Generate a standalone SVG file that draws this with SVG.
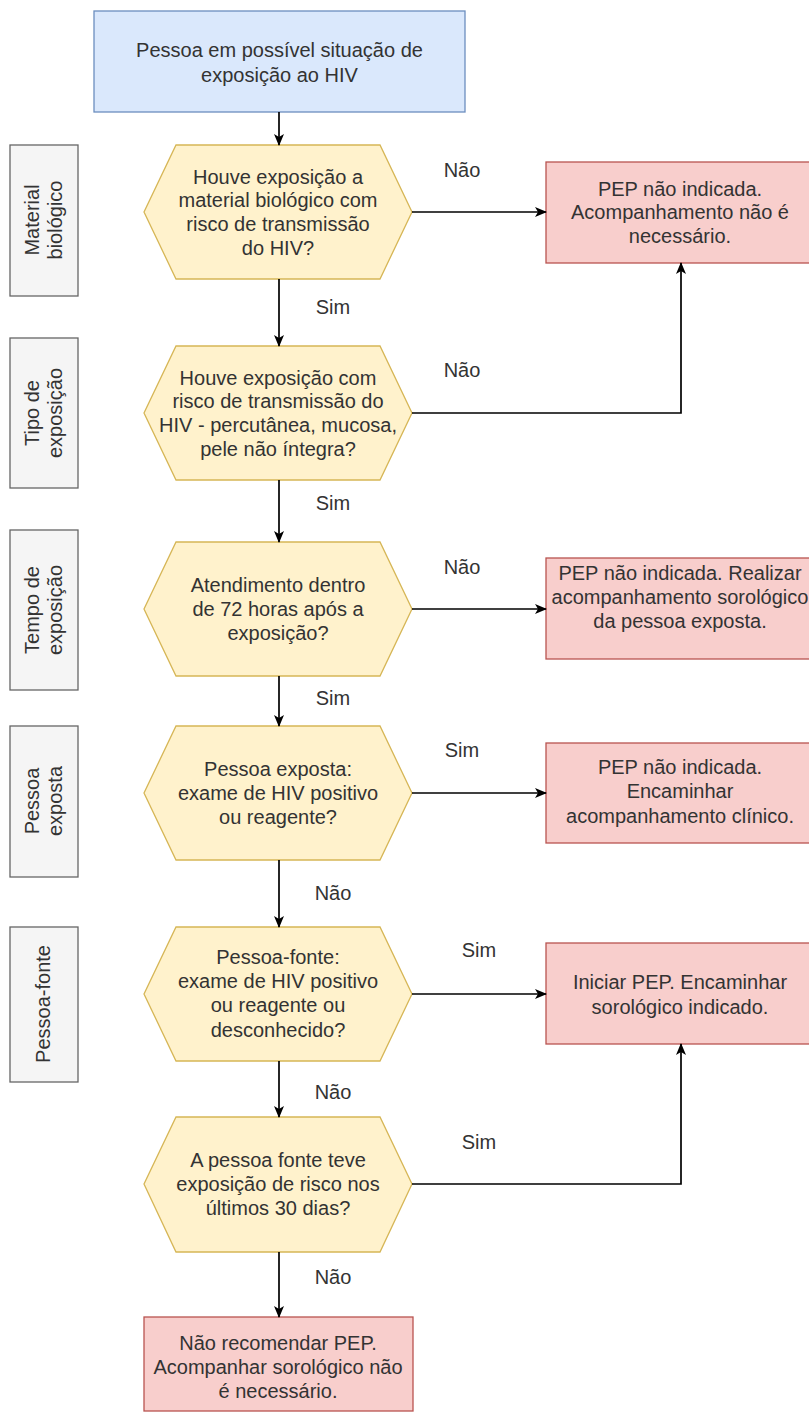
<svg xmlns="http://www.w3.org/2000/svg" width="809" height="1414" viewBox="0 0 809 1414">
<style>
text{font-family:"Liberation Sans",Arial,sans-serif;font-size:20px;fill:#333333;text-anchor:middle}
.start{fill:#dae8fc;stroke:#6c8ebf;stroke-width:1.3}
.dec{fill:#fff2cc;stroke:#d6b656;stroke-width:1.3}
.end{fill:#f8cecc;stroke:#b85450;stroke-width:1.3}
.side{fill:#f5f5f5;stroke:#666666;stroke-width:1.3}
.edge{fill:none;stroke:#000000;stroke-width:1.7}
</style>
<defs>
<marker id="arr" viewBox="0 0 12 10" refX="11" refY="5" markerWidth="12" markerHeight="10" markerUnits="userSpaceOnUse" orient="auto">
<path d="M0,0 L12,5 L0,10 L3,5 Z" fill="#000"/>
</marker>
</defs>
<rect width="809" height="1414" fill="#ffffff"/>

<g id="side-material">
<rect class="side" x="10" y="145" width="68" height="151"/>
<text transform="translate(39,220) rotate(-90)">Material</text>
<text transform="translate(62,220) rotate(-90)">biológico</text>
</g>
<g id="side-tipo">
<rect class="side" x="10" y="338" width="68" height="150"/>
<text transform="translate(39,413) rotate(-90)">Tipo de</text>
<text transform="translate(62,413) rotate(-90)">exposição</text>
</g>
<g id="side-tempo">
<rect class="side" x="10" y="530" width="68" height="160"/>
<text transform="translate(39,610) rotate(-90)">Tempo de</text>
<text transform="translate(62,610) rotate(-90)">exposição</text>
</g>
<g id="side-exposta">
<rect class="side" x="10" y="726" width="68" height="151"/>
<text transform="translate(39,801) rotate(-90)">Pessoa</text>
<text transform="translate(62,801) rotate(-90)">exposta</text>
</g>
<g id="side-fonte">
<rect class="side" x="10" y="927" width="68" height="155"/>
<text transform="translate(50,1004) rotate(-90)">Pessoa-fonte</text>
</g>

<g id="start">
<rect class="start" x="94" y="11" width="371" height="101"/>
<text x="279.5" y="57">Pessoa em possível situação de</text>
<text x="279.5" y="82">exposição ao HIV</text>
</g>

<g id="q1">
<polygon class="dec" points="176,145 380,145 412,212 380,279 176,279 144,212"/>
<text x="278" y="184">Houve exposição a</text>
<text x="278" y="207">material biológico com</text>
<text x="278" y="231">risco de transmissão</text>
<text x="278" y="255">do HIV?</text>
</g>
<g id="q2">
<polygon class="dec" points="176,346 380,346 412,413 380,480 176,480 144,413"/>
<text x="278" y="385">Houve exposição com</text>
<text x="278" y="408">risco de transmissão do</text>
<text x="278" y="432">HIV - percutânea, mucosa,</text>
<text x="278" y="456">pele não íntegra?</text>
</g>
<g id="q3">
<polygon class="dec" points="176,542 380,542 412,609 380,676 176,676 144,609"/>
<text x="278" y="592">Atendimento dentro</text>
<text x="278" y="616">de 72 horas após a</text>
<text x="278" y="640">exposição?</text>
</g>
<g id="q4">
<polygon class="dec" points="176,726 380,726 412,793 380,860 176,860 144,793"/>
<text x="278" y="776">Pessoa exposta:</text>
<text x="278" y="800">exame de HIV positivo</text>
<text x="278" y="824">ou reagente?</text>
</g>
<g id="q5">
<polygon class="dec" points="176,927 380,927 412,994 380,1061 176,1061 144,994"/>
<text x="278" y="964">Pessoa-fonte:</text>
<text x="278" y="988">exame de HIV positivo</text>
<text x="278" y="1012">ou reagente ou</text>
<text x="278" y="1037">desconhecido?</text>
</g>
<g id="q6">
<polygon class="dec" points="176,1117 380,1117 412,1184 380,1252 176,1252 144,1184"/>
<text x="278" y="1167">A pessoa fonte teve</text>
<text x="278" y="1191">exposição de risco nos</text>
<text x="278" y="1215">últimos 30 dias?</text>
</g>

<g id="r1">
<rect class="end" x="546" y="162" width="270" height="101"/>
<text x="680" y="196">PEP não indicada.</text>
<text x="680" y="219">Acompanhamento não é</text>
<text x="680" y="243">necessário.</text>
</g>
<g id="r2">
<rect class="end" x="546" y="558" width="270" height="101"/>
<text x="680" y="580">PEP não indicada. Realizar</text>
<text x="680" y="604">acompanhamento sorológico</text>
<text x="680" y="628">da pessoa exposta.</text>
</g>
<g id="r3">
<rect class="end" x="546" y="743" width="270" height="100"/>
<text x="680" y="774">PEP não indicada.</text>
<text x="680" y="798">Encaminhar</text>
<text x="680" y="823">acompanhamento clínico.</text>
</g>
<g id="r4">
<rect class="end" x="546" y="943" width="270" height="101"/>
<text x="680" y="989">Iniciar PEP. Encaminhar</text>
<text x="680" y="1014">sorológico indicado.</text>
</g>
<g id="r5">
<rect class="end" x="144" y="1317" width="269" height="94"/>
<text x="278" y="1350">Não recomendar PEP.</text>
<text x="278" y="1374">Acompanhar sorológico não</text>
<text x="278" y="1398">é necessário.</text>
</g>

<g id="connectors">
<path class="edge" d="M279,112 L279,145" marker-end="url(#arr)"/>
<path class="edge" d="M279,279 L279,346" marker-end="url(#arr)"/>
<path class="edge" d="M279,480 L279,542" marker-end="url(#arr)"/>
<path class="edge" d="M279,676 L279,726" marker-end="url(#arr)"/>
<path class="edge" d="M279,860 L279,927" marker-end="url(#arr)"/>
<path class="edge" d="M279,1061 L279,1117" marker-end="url(#arr)"/>
<path class="edge" d="M279,1252 L279,1317" marker-end="url(#arr)"/>
<path class="edge" d="M412,212 L546,212" marker-end="url(#arr)"/>
<path class="edge" d="M412,413 L681,413 L681,263" marker-end="url(#arr)"/>
<path class="edge" d="M412,609 L546,609" marker-end="url(#arr)"/>
<path class="edge" d="M412,793 L546,793" marker-end="url(#arr)"/>
<path class="edge" d="M412,994 L546,994" marker-end="url(#arr)"/>
<path class="edge" d="M412,1184 L681,1184 L681,1044" marker-end="url(#arr)"/>
<text x="333" y="314">Sim</text>
<text x="333" y="510">Sim</text>
<text x="333" y="705">Sim</text>
<text x="333" y="900">Não</text>
<text x="333" y="1099">Não</text>
<text x="333" y="1284">Não</text>
<text x="462" y="177">Não</text>
<text x="462" y="377">Não</text>
<text x="462" y="574">Não</text>
<text x="462" y="757">Sim</text>
<text x="479" y="957">Sim</text>
<text x="479" y="1149">Sim</text>
</g>
</svg>
